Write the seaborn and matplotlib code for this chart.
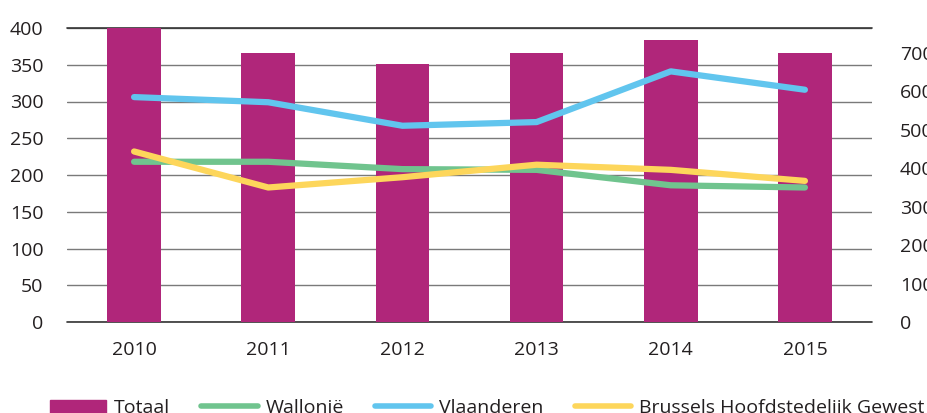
import pandas as pd
import numpy as np
import seaborn as sns
from matplotlib import pyplot as plt
from matplotlib.patches import Patch
from matplotlib.lines import Line2D

# values
years=['2010','2011','2012','2013','2014','2015']
totaal=[765,699,672,699,733,699]
wallonie=[218,218,208,207,186,183]
vlaanderen=[306,299,267,272,341,316]
brussel=[232,183,197,214,207,192]
left_ticks=[0,50,100,150,200,250,300,350,400]
right_ticks=[0,100,200,300,400,500,600,700]

sns.set_style('white')
plt.rcParams['font.family']=['Open Sans','DejaVu Sans']
txt='#231f20'

bar_col='#B0267A'
regions=['Wallonië','Vlaanderen','Brussels Hoofdstedelijk Gewest']
cols=dict(zip(regions,['#70C48E','#61C5EE','#FDD65B']))

lines=pd.DataFrame({'Jaar':years*3,
                    'Waarde':wallonie+vlaanderen+brussel,
                    'Regio':[r for r in regions for _ in years]})

fig,ax=plt.subplots(figsize=(9.28,4.13),dpi=100)
fig.subplots_adjust(left=67/928,right=872/928,top=1-28/413,bottom=1-322/413)

# left scale: gridlines only
ax.set_ylim(0,400)
ax.set_yticks(left_ticks)
ax.grid(axis='y',color='#7a7a7a',lw=1)
ax.grid(axis='x',visible=False)
for v in (left_ticks[0],left_ticks[-1]):
    ax.axhline(v,color='#333333',lw=1.2,clip_on=False)

# bars on the right scale
axb=ax.twinx()
sns.barplot(x=years,y=totaal,color=bar_col,saturation=1,width=0.4,
            linewidth=0,ax=axb)
axb.set_ylim(0,765)
axb.set_yticks(right_ticks)

# lines on the left scale, drawn on top
axl=ax.twinx()
sns.lineplot(data=lines,x='Jaar',y='Waarde',hue='Regio',palette=cols,
             lw=4.5,solid_capstyle='round',sort=False,legend=False,ax=axl)
axl.set_ylim(0,400)
axl.set_yticks([])
axl.set_ylabel('')

ax.set_xlim(-0.5,5.5)
ax.set_xticks(range(len(years)))
ax.set_xticklabels(years)
for a in (ax,axb,axl):
    for s in a.spines.values():
        s.set_visible(False)
    a.set_xlabel('')
    a.set_ylabel('')
ax.tick_params(axis='y',length=0,pad=17,labelsize=14,labelcolor=txt)
ax.tick_params(axis='x',length=0,pad=14,labelsize=14,labelcolor=txt)
axb.tick_params(axis='y',length=0,pad=20,labelsize=14,labelcolor=txt)

handles=[Patch(color=bar_col)]+[Line2D([],[],color=cols[r],lw=4,solid_capstyle='round') for r in regions]
fig.legend(handles,['Totaal']+regions,loc='lower left',bbox_to_anchor=(50/928,-0.01),
           ncol=4,frameon=False,fontsize=14,handlelength=2.9,handletextpad=0.4,
           columnspacing=1.6,borderaxespad=0,borderpad=0,labelcolor=txt)

plt.savefig('out.png',dpi=100)
